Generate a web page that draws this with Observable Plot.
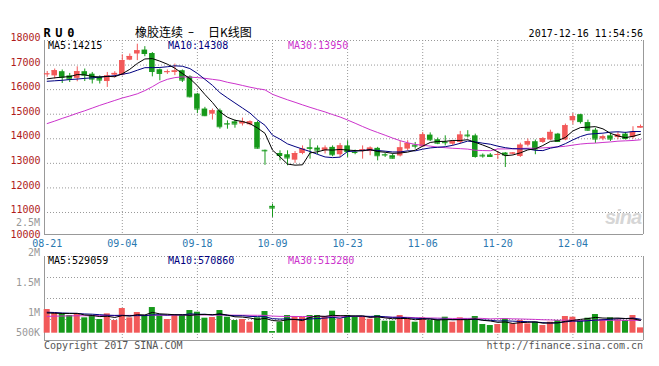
<!DOCTYPE html>
<html><head><meta charset="utf-8">
<script src="https://cdn.jsdelivr.net/npm/d3@7"></script>
<script src="https://cdn.jsdelivr.net/npm/@observablehq/plot@0.6"></script>
<style>
body{margin:0;background:#fff;}
#wrap{position:relative;width:659px;height:366px;overflow:hidden;background:#fff;}
#wrap svg{position:absolute;left:0;}
.t{position:absolute;white-space:pre;font-size:10px;line-height:10px;font-family:"DejaVu Sans Mono",monospace;}
</style></head><body><div id="wrap"></div>
<script>
// ---------------- DATA ----------------
const dates = ["08-21","08-22","08-23","08-24","08-25","08-28","08-29","08-30","08-31","09-01",
"09-04","09-05","09-06","09-07","09-08","09-11","09-12","09-13","09-14","09-15",
"09-18","09-19","09-20","09-21","09-22","09-25","09-26","09-27","09-28","09-29",
"10-09","10-10","10-11","10-12","10-13","10-16","10-17","10-18","10-19","10-20",
"10-23","10-24","10-25","10-26","10-27","10-30","10-31","11-01","11-02","11-03",
"11-06","11-07","11-08","11-09","11-10","11-13","11-14","11-15","11-16","11-17",
"11-20","11-21","11-22","11-23","11-24","11-27","11-28","11-29","11-30","12-01",
"12-04","12-05","12-06","12-07","12-08","12-11","12-12","12-13","12-14","12-15"];
const open = [16620,16560,16730,16560,16460,16730,16630,16500,16330,16590,
16590,17200,17450,17610,17470,16810,16700,16700,16770,16520,
15820,15210,15000,15140,14620,14690,14600,14570,14660,13530,
11250,13400,13350,13130,13400,13640,13620,13510,13650,13350,
13710,13450,13510,13480,13610,13360,13310,13300,13580,13740,
13670,14150,13960,13860,13780,13850,14150,14120,13330,13340,
13330,13420,13380,13280,13740,13880,13850,13950,14190,13950,
14730,14980,14660,14350,13990,14120,14050,14190,14050,14430];
const high = [16740,16840,16800,16660,16930,16840,16700,16560,16700,16730,
17420,17450,17850,17750,17510,16840,16800,17040,16800,16560,
15850,15280,15210,15210,14730,14760,14840,14730,14710,13540,
11340,13510,13510,13480,13710,13980,13710,13710,13710,13810,
13920,13540,13710,13670,13650,13400,13380,13900,13920,13850,
14260,14240,14030,14120,13920,14300,14330,14190,13380,13400,
13480,13440,13440,13820,13990,13950,14050,14350,14220,14600,
15030,15000,14760,14430,14150,14230,14260,14260,14490,14560];
const low = [16500,16430,16250,16290,16320,16330,16230,16230,16090,16470,
16560,17180,17180,17340,16520,16360,16620,16570,16290,15660,
15030,14900,14760,14390,14390,14430,14520,14530,13580,12920,
10800,13100,12900,13000,13350,13170,13350,13380,13270,13240,
13240,13350,13170,13310,13100,13240,13170,13260,13510,13580,
13650,13890,13760,13710,13710,13780,14030,13210,13210,13240,
13150,12830,13340,13240,13670,13350,13810,13920,13850,13920,
14570,14600,14300,13810,13920,13890,13960,13950,13990,14430];
const close = [16640,16770,16500,16430,16730,16590,16430,16390,16560,16660,
17180,17350,17580,17470,16740,16660,16730,16760,16390,15710,
15210,14940,15140,14490,14600,14600,14690,14690,13620,13510,
11180,13320,13220,13400,13580,13610,13540,13620,13350,13710,
13480,13440,13550,13620,13310,13340,13210,13630,13800,13700,
14160,13960,13820,13840,13880,14150,14120,13280,13300,13280,
13360,13340,13420,13740,13880,13580,14010,14260,13890,14530,
14900,14700,14350,13990,14080,13990,14160,14010,14260,14500];
const volume = [972000,821000,794000,726000,767000,630000,726000,561000,794000,520000,
1013000,630000,849000,726000,1054000,712000,561000,726000,726000,931000,
862000,616000,643000,931000,657000,520000,561000,452000,630000,890000,
68000,452000,726000,685000,657000,726000,726000,657000,904000,589000,
726000,657000,685000,575000,726000,493000,493000,726000,589000,452000,
630000,520000,520000,657000,452000,630000,520000,685000,356000,315000,
356000,589000,383000,520000,383000,452000,315000,452000,520000,685000,
657000,520000,616000,767000,548000,630000,548000,520000,726000,219000];
const ma5 = [16440,16480,16510,16530,16614,16604,16536,16514,16540,16526,
16644,16828,17066,17248,17264,17160,17036,16872,16656,16450,
16160,15802,15478,15098,14876,14754,14704,14614,14440,14222,
13538,13264,12970,12926,12940,13426,13470,13550,13540,13566,
13540,13520,13506,13560,13480,13452,13406,13422,13458,13536,
13700,13850,13888,13896,13932,13930,13962,13854,13746,13626,
13468,13312,13340,13428,13548,13592,13726,13894,13924,14054,
14318,14456,14474,14494,14404,14222,14114,14046,14100,14184];
const ma10 = [16340,16360,16380,16410,16430,16460,16480,16510,16540,16570,
16624,16682,16790,16894,16895,16902,16932,16969,16952,16857,
16660,16419,16175,15877,15663,15457,15253,15046,14769,14549,
14146,13984,13792,13683,13581,13482,13367,13260,13233,13253,
13483,13495,13528,13550,13523,13496,13463,13464,13509,13508,
13576,13628,13655,13677,13734,13815,13906,13871,13821,13779,
13699,13637,13597,13587,13587,13530,13519,13617,13676,13801,
13955,14091,14184,14209,14229,14270,14285,14260,14297,14294];
const ma30 = [14620,14720,14830,14930,15040,15140,15250,15360,15460,15560,
15660,15740,15830,15960,16120,16300,16420,16490,16520,16510,
16490,16460,16420,16380,16300,16240,16170,16100,16040,15992,
15810,15695,15586,15485,15380,15280,15184,15092,14985,14886,
14763,14633,14498,14370,14256,14145,14028,13923,13837,13770,
13735,13702,13658,13637,13613,13598,13579,13532,13521,13513,
13586,13587,13593,13605,13615,13614,13629,13651,13669,13696,
13743,13785,13812,13824,13850,13872,13903,13916,13931,13958];
const vma5 = [830000,820000,810000,810000,816000,748000,729000,682000,696000,646000,
723000,704000,761000,748000,854000,794000,780000,756000,756000,731000,
761000,772000,756000,797000,742000,673000,662000,624000,564000,611000,
520000,498000,553000,564000,518000,649000,704000,690000,734000,720000,
720000,707000,712000,646000,674000,627000,594000,603000,605000,551000,
578000,583000,542000,556000,556000,556000,556000,589000,529000,501000,
446000,460000,400000,433000,446000,465000,411000,424000,424000,485000,
526000,567000,600000,649000,622000,616000,622000,603000,594000,529000];
const vma10 = [860000,850000,830000,820000,810000,790000,780000,760000,740000,731000,
735000,716000,722000,722000,750000,759000,742000,759000,752000,793000,
778000,776000,756000,776000,737000,717000,717000,690000,680000,676000,
597000,580000,589000,564000,564000,585000,601000,622000,649000,619000,
685000,705000,701000,690000,697000,674000,651000,657000,626000,612000,
603000,589000,572000,581000,553000,567000,570000,566000,542000,529000,
501000,508000,494000,481000,474000,456000,435000,412000,429000,466000,
496000,489000,512000,537000,553000,571000,594000,601000,622000,575000];
const vma30 = [690000,700000,705000,712000,715000,718000,716000,722000,725000,720000,
728000,732000,730000,736000,740000,738000,742000,745000,744000,748000,
750000,748000,746000,744000,742000,740000,738000,736000,735000,733000,
703000,691000,689000,687000,684000,687000,687000,690000,694000,696000,
686000,687000,682000,677000,666000,659000,656000,656000,652000,636000,
628000,625000,621000,612000,605000,608000,607000,615000,606000,587000,
596000,601000,589000,584000,575000,566000,552000,545000,532000,535000,
533000,529000,526000,533000,527000,531000,533000,526000,531000,523000];
const priceTicks = [10000,11000,12000,13000,14000,15000,16000,17000,18000];
const dateTicks = ["08-21","09-04","09-18","10-09","10-23","11-06","11-20","12-04"];
const volAxisLabels = ["2.5M","2M","1.5M","1M","500K"];
const priceMaText = ["MA5:14215","MA10:14308","MA30:13950"];
const volMaText = ["MA5:529059","MA10:570860","MA30:513280"];
const titleCode = "RU0";
const titleName = ["橡胶连续","–","日K线图"];
const stamp = "2017-12-16 11:54:56";
const footer = ["Copyright 2017 SINA.COM","http://finance.sina.com.cn"];

// ---------------- CHART ----------------
const UP = "#f25959", DN = "#16991a";
const MAC = ["#000000", "#000080", "#cc33cc"];
const GRID = "#999999";
const FONT = "DejaVu Sans Mono";
const wrap = document.getElementById("wrap");

const idx = d3.range(dates.length);
const rows = idx.map(i => ({i, o: open[i], h: high[i], l: low[i], c: close[i], v: volume[i], up: close[i] >= open[i]}));
const xDomain = [-0.36, dates.length - 0.6];
const tickIdx = dateTicks.map(d => dates.indexOf(d));
const gridIdx = tickIdx.slice(1);
const HW = 0.37;
const colorOf = d => d.up ? UP : DN;

const pDom = [10104, 18000];
const priceSvg = Plot.plot({
  width: 659, height: 250,
  marginLeft: 44, marginRight: 16, marginTop: 40, marginBottom: 16,
  style: "background: transparent; overflow: visible;",
  x: {type: "linear", domain: xDomain},
  y: {type: "linear", domain: pDom},
  color: {type: "identity"},
  marks: [
    Plot.gridX(gridIdx, {stroke: GRID, strokeOpacity: 1, strokeDasharray: "1,2"}),
    Plot.gridY(priceTicks.filter(t => t > pDom[0]), {stroke: GRID, strokeOpacity: 1, strokeDasharray: "1,2"}),
    Plot.ruleX(xDomain, {stroke: GRID}),
    Plot.ruleY([pDom[0]], {stroke: GRID}),
    Plot.axisY(priceTicks, {tickSize: 0, tickPadding: 4, color: "#b01c1c", fontSize: 10, fontFamily: FONT, dy: -2.5, tickFormat: d => String(d), label: null}),
    Plot.axisX(tickIdx, {tickSize: 0, tickPadding: 5, color: "#2a78b0", fontSize: 10, fontFamily: FONT, tickFormat: i => dates[i], label: null}),
    Plot.ruleX(rows, {x: "i", y1: "l", y2: "h", stroke: colorOf}),
    Plot.rect(rows, {x1: d => d.i - HW, x2: d => d.i + HW, y1: d => Math.min(d.o, d.c), y2: d => Math.max(d.o, d.c), fill: colorOf}),
    Plot.ruleY(rows, {y: "c", x1: d => d.i - HW, x2: d => d.i + HW, stroke: colorOf}),
    Plot.line(idx, {x: i => i, y: i => ma30[i], stroke: MAC[2], strokeWidth: 1}),
    Plot.line(idx, {x: i => i, y: i => ma10[i], stroke: MAC[1], strokeWidth: 1}),
    Plot.line(idx, {x: i => i, y: i => ma5[i], stroke: MAC[0], strokeWidth: 1})
  ]
});
priceSvg.style.top = "0px";
wrap.appendChild(priceSvg);

const vDom = [-300000, 3150000];
const vGrid = [1, 2, 3].map(k => vDom[0] + (vDom[1] - vDom[0]) * k / 4);
const volSvg = Plot.plot({
  width: 659, height: 116,
  marginLeft: 44, marginRight: 16, marginTop: 6, marginBottom: 26,
  style: "background: transparent; overflow: visible;",
  x: {type: "linear", domain: xDomain, axis: null},
  y: {type: "linear", domain: vDom, axis: null},
  color: {type: "identity"},
  marks: [
    Plot.gridX(gridIdx, {stroke: GRID, strokeOpacity: 1, strokeDasharray: "1,2"}),
    Plot.gridY(vGrid, {stroke: GRID, strokeOpacity: 1, strokeDasharray: "1,2"}),
    Plot.ruleY([vDom[1]], {stroke: GRID, strokeDasharray: "1,2"}),
    Plot.ruleX(xDomain, {stroke: GRID}),
    Plot.ruleY([vDom[0]], {stroke: GRID}),
    Plot.rectY(rows, {x1: d => d.i - 0.4, x2: d => d.i + 0.4, y: "v", fill: colorOf}),
    Plot.line(idx, {x: i => i, y: i => vma30[i], stroke: MAC[2], strokeWidth: 1}),
    Plot.line(idx, {x: i => i, y: i => vma10[i], stroke: MAC[1], strokeWidth: 1}),
    Plot.line(idx, {x: i => i, y: i => vma5[i], stroke: MAC[0], strokeWidth: 1})
  ]
});
volSvg.style.top = "250px";
wrap.appendChild(volSvg);

function text(txt, css) {
  const d = document.createElement("div");
  d.className = "t";
  d.textContent = txt;
  Object.assign(d.style, css);
  wrap.appendChild(d);
  return d;
}
// title row
text(titleCode, {left: "43.5px", top: "27px", fontSize: "12px", lineHeight: "12px", fontWeight: "bold", letterSpacing: "4.6px", color: "#000"});
text(titleName[0], {left: "135px", top: "25.5px", fontSize: "12px", lineHeight: "12px", fontFamily: "'Noto Sans CJK SC', sans-serif", color: "#000"});
text(titleName[1], {left: "188px", top: "26px", fontSize: "12px", lineHeight: "12px", fontFamily: "'DejaVu Sans', sans-serif", color: "#000"});
text(titleName[2], {left: "208px", top: "25.5px", fontSize: "12px", lineHeight: "12px", fontFamily: "'Noto Sans CJK SC', sans-serif", color: "#000"});
text(stamp, {right: "16px", top: "28.7px", color: "#000"});
// MA labels
const maLeft = ["48px", "168px", "288px"];
priceMaText.forEach((t, k) => text(t, {left: maLeft[k], top: "40.5px", color: MAC[k]}));
volMaText.forEach((t, k) => text(t, {left: maLeft[k], top: "256px", color: MAC[k]}));
// volume axis labels
const volLabelTop = [218, 248, 278, 307.5, 328];
volAxisLabels.forEach((t, k) => text(t, {right: "619px", top: volLabelTop[k] + "px", color: "#999"}));
// footer
text(footer[0], {left: "44px", top: "340.5px", color: "#555"});
text(footer[1], {right: "16px", top: "340.5px", color: "#555"});
// watermark
text("sina", {left: "605px", top: "207px", fontSize: "20px", lineHeight: "20px", fontStyle: "italic", fontWeight: "bold", fontFamily: "'Liberation Sans', sans-serif", color: "#d6d6d6", letterSpacing: "-1px"});
</script></body></html>
